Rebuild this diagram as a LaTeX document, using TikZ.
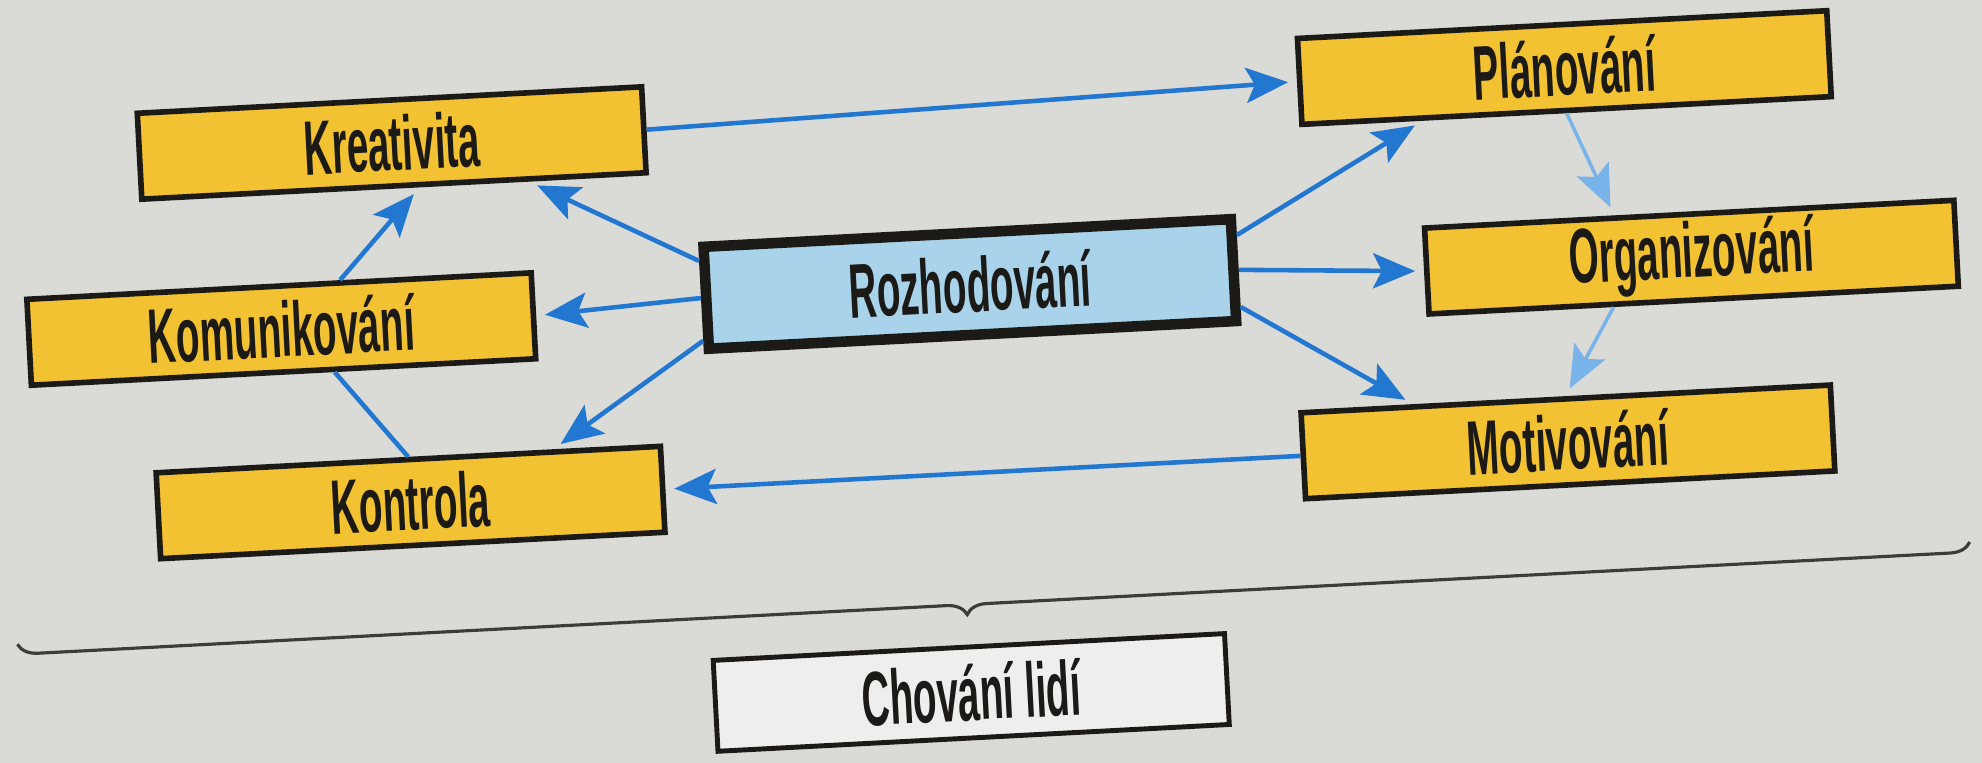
\documentclass[tikz,border=0pt]{standalone}
\usepackage{fontspec}
\setmainfont{Liberation Sans}[FakeStretch=0.5]
\usepackage{xcolor}
\usetikzlibrary{arrows.meta}
\usetikzlibrary{calc}
\usetikzlibrary{decorations.pathreplacing}
\definecolor{pagegray}{HTML}{DADAD7}
\definecolor{boxyellow}{HTML}{F2C232}
\definecolor{boxblue}{HTML}{A8D3EA}
\definecolor{boxwhite}{HTML}{EEEEEC}
\definecolor{arrowblue}{HTML}{2277D0}
\definecolor{paleblue}{HTML}{78B4EA}
\definecolor{inkdark}{HTML}{1C1A16}
\tikzset{
    task/.style={draw=inkdark, line width=1.6pt, fill=boxyellow, inner sep=0pt,
        minimum width=5.05cm, minimum height=0.86cm, text=inkdark,
        font=\fontsize{22}{26}\selectfont\bfseries},
    righttask/.style={task, minimum width=5.3cm},
    decision/.style={task, fill=boxblue, line width=3pt, minimum width=5.28cm, minimum height=1.02cm},
    outcome/.style={task, fill=boxwhite, line width=1.4pt, minimum width=5.12cm, minimum height=0.91cm},
    flow/.style={-{Stealth[length=12pt,width=10pt,inset=2.5pt]}, draw=arrowblue, line width=1.3pt, shorten >=2.5pt},
    paleflow/.style={flow, draw=paleblue, line width=1pt},
}

\begin{document}
\begin{tikzpicture}
    \fill[pagegray] (0,0) rectangle (19.82,7.63);
    \useasboundingbox (0,0) rectangle (19.82,7.63);

    \begin{scope}[rotate around={3:(9.91,3.815)}, transform shape]
    \node[task] (kreativita) at (4.05,6.51) {Kreativita};
    \node[task] (komunikovani) at (2.85,4.71) {Komunikování};
    \node[task] (kontrola) at (4.05,2.91) {Kontrola};
    \node[decision] (rozhodovani) at (9.75,4.80) {Rozhodování};
    \node[righttask] (planovani) at (15.80,6.65) {Plánování};
    \node[righttask] (organizovani) at (16.97,4.69) {Organizování};
    \node[righttask] (motivovani) at (15.64,2.91) {Motivování};
    \node[outcome] (chovani) at (9.55,0.72) {Chování lidí};

    \draw[flow] (kreativita.east) -- (planovani.west);
    \draw[flow] ($(rozhodovani.north west)!0.17!(rozhodovani.south west)$) -- ($(kreativita.south)!0.53!(kreativita.south east)$);
    \draw[flow] (rozhodovani.west) -- (komunikovani.east);
    \draw[flow] ($(rozhodovani.north west)!0.88!(rozhodovani.south west)$) -- ($(kontrola.north)!0.57!(kontrola.north east)$);
    \draw[flow] ($(rozhodovani.north east)!0.19!(rozhodovani.south east)$) -- ($(planovani.south)!0.54!(planovani.south west)$);
    \draw[flow] (rozhodovani.east) -- (organizovani.west);
    \draw[flow] ($(rozhodovani.north east)!0.83!(rozhodovani.south east)$) -- ($(motivovani.north)!0.57!(motivovani.north west)$);
    \draw[flow] ($(komunikovani.north)!0.24!(komunikovani.north east)$) -- ($(kreativita.south)!0.1!(kreativita.south east)$);
    \draw[arrowblue, line width=1.3pt] ($(komunikovani.south)!0.2!(komunikovani.south east)$) -- (kontrola.north);
    \draw[paleflow] (planovani.south) -- ($(organizovani.north)!0.28!(organizovani.north west)$);
    \draw[paleflow] ($(organizovani.south)!0.3!(organizovani.south west)$) -- (motivovani.north);
    \draw[flow] (motivovani.west) -- (kontrola.east);

    \coordinate (braceleft) at (0.05,1.70);
    \coordinate (braceright) at (19.60,1.70);
    \draw[inkdark!85, line width=0.9pt, decorate,
        decoration={brace, mirror, amplitude=0.2cm, aspect=0.486}] (braceleft) -- (braceright);
    \end{scope}
\end{tikzpicture}
\end{document}
